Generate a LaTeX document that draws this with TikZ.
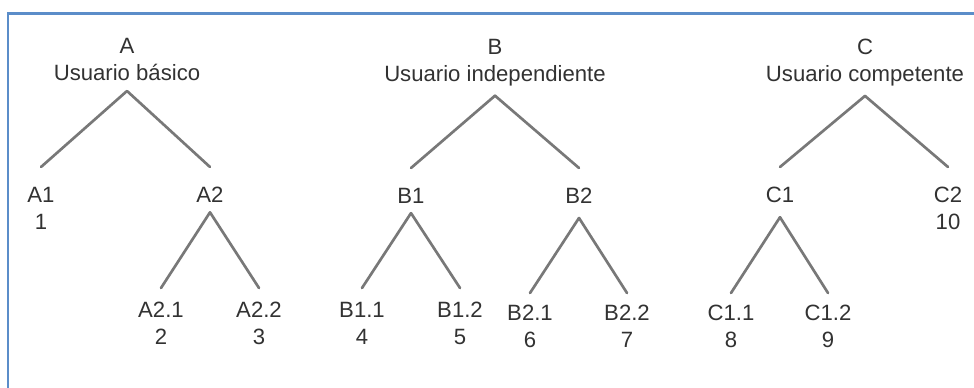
\documentclass[tikz,border=0pt]{standalone}
\usepackage{fontspec}
\setmainfont{Liberation Sans}
\usepackage{tikz}
\usetikzlibrary{positioning}
\definecolor{frameblue}{RGB}{91,141,201}
\definecolor{inkgray}{RGB}{50,50,50}
\definecolor{branchgray}{RGB}{120,120,120}

\begin{document}
\begin{tikzpicture}[
  x=0.75pt, y=-0.75pt,
  level/.style={inner sep=0pt, anchor=north, align=center, text=inkgray, font=\fontsize{16.6}{20.25}\selectfont},
  branch/.style={draw=branchgray, line width=2pt, line cap=round}
]
\useasboundingbox (0,0) rectangle (974,387);
\fill[white] (0,0) rectangle (974,387);
\draw[frameblue, line width=1.6pt] (8,390) -- (8,13.5) -- (980,13.5);

% top levels
\node[level] (A) at (127,38) {A\\Usuario básico};
\node[level] (B) at (495,39) {B\\Usuario independiente};
\node[level] (C) at (865,39) {C\\Usuario competente};

% second row
\node[level] (A1) at (41,187) {A1\\1};
\node[level] (A2) at (210,187) {A2};
\node[level] (B1) at (411,188) {B1};
\node[level] (B2) at (579,188) {B2};
\node[level] (C1) at (780,187) {C1};
\node[level] (C2) at (948,187) {C2\\10};

% third row
\node[level] (A21) at (161,302) {A2.1\\2};
\node[level] (A22) at (259,302) {A2.2\\3};
\node[level] (B11) at (362,302) {B1.1\\4};
\node[level] (B12) at (460,302) {B1.2\\5};
\node[level] (B21) at (530,305) {B2.1\\6};
\node[level] (B22) at (627,305) {B2.2\\7};
\node[level] (C11) at (731,305) {C1.1\\8};
\node[level] (C12) at (828,305) {C1.2\\9};

% branches
\draw[branch] ([yshift=-7.5pt]A.south) -- ([yshift=15pt]A1.north);
\draw[branch] ([yshift=-7.5pt]A.south) -- ([yshift=15pt]A2.north);
\draw[branch] ([yshift=-7pt]A2.south) -- ([yshift=10.5pt]A21.north);
\draw[branch] ([yshift=-7pt]A2.south) -- ([yshift=10.5pt]A22.north);
\draw[branch] ([yshift=-7pt]B.south) -- ([yshift=15pt]B1.north);
\draw[branch] ([yshift=-7pt]B.south) -- ([yshift=15pt]B2.north);
\draw[branch] ([yshift=-7pt]B1.south) -- ([yshift=10.5pt]B11.north);
\draw[branch] ([yshift=-7pt]B1.south) -- ([yshift=10.5pt]B12.north);
\draw[branch] ([yshift=-10.5pt]B2.south) -- ([yshift=9pt]B21.north);
\draw[branch] ([yshift=-10.5pt]B2.south) -- ([yshift=9pt]B22.north);
\draw[branch] ([yshift=-7pt]C.south) -- ([yshift=15pt]C1.north);
\draw[branch] ([yshift=-7pt]C.south) -- ([yshift=15pt]C2.north);
\draw[branch] ([yshift=-10.5pt]C1.south) -- ([yshift=9pt]C11.north);
\draw[branch] ([yshift=-10.5pt]C1.south) -- ([yshift=9pt]C12.north);
\end{tikzpicture}
\end{document}
